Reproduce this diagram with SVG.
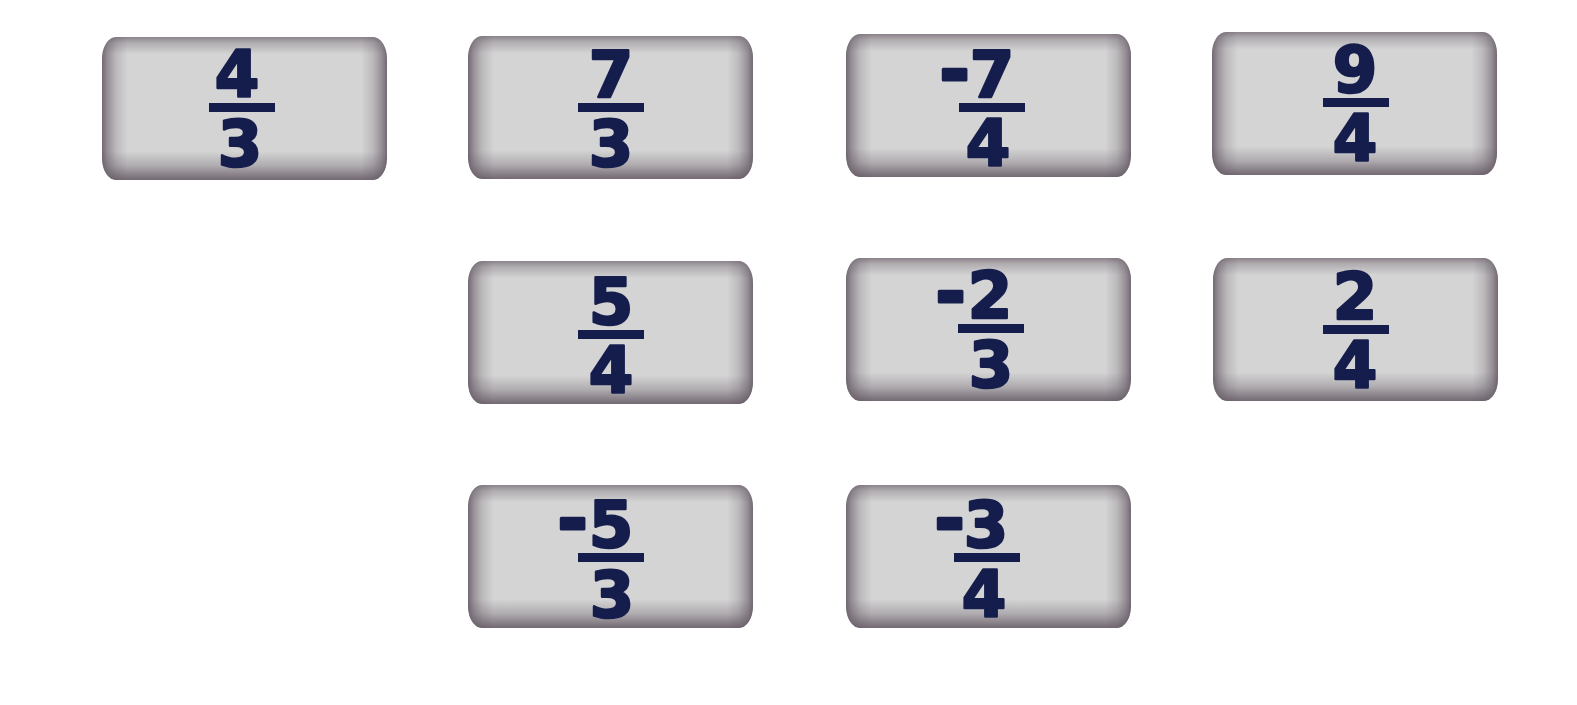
<svg xmlns="http://www.w3.org/2000/svg" width="1577" height="705" viewBox="0 0 1577 705">
<style>
.card{fill:#d4d4d4}
.gh{fill:url(#gh)}
.gv{fill:url(#gv)}
.t{font-family:"DejaVu Sans","Liberation Sans",sans-serif;font-weight:bold;font-size:64px;fill:#141d4c;stroke:#141d4c;stroke-width:2.5;stroke-linejoin:round;text-anchor:middle}
.neg{font-size:74px;stroke-width:3}
.bar{fill:#141d4c}
</style>
<defs>
<linearGradient id="gh" x1="0" y1="0" x2="1" y2="0">
<stop offset="0" stop-color="#5a4e5a" stop-opacity="0.8"/>
<stop offset="0.02" stop-color="#5a4e5a" stop-opacity="0.5"/>
<stop offset="0.05" stop-color="#5a4e5a" stop-opacity="0.2"/>
<stop offset="0.09" stop-color="#5a4e5a" stop-opacity="0"/>
<stop offset="0.91" stop-color="#5a4e5a" stop-opacity="0"/>
<stop offset="0.95" stop-color="#5a4e5a" stop-opacity="0.2"/>
<stop offset="0.98" stop-color="#5a4e5a" stop-opacity="0.5"/>
<stop offset="1" stop-color="#5a4e5a" stop-opacity="0.8"/>
</linearGradient>
<linearGradient id="gv" x1="0" y1="0" x2="0" y2="1">
<stop offset="0" stop-color="#5a4e5a" stop-opacity="0.6"/>
<stop offset="0.04" stop-color="#5a4e5a" stop-opacity="0.3"/>
<stop offset="0.12" stop-color="#5a4e5a" stop-opacity="0"/>
<stop offset="0.8" stop-color="#5a4e5a" stop-opacity="0"/>
<stop offset="0.9" stop-color="#5a4e5a" stop-opacity="0.3"/>
<stop offset="0.96" stop-color="#5a4e5a" stop-opacity="0.6"/>
<stop offset="1" stop-color="#5a4e5a" stop-opacity="0.8"/>
</linearGradient>
</defs>
<rect width="1577" height="705" fill="#ffffff"/>
<g id="connectors"/>
<g id="card-4-3">
<rect class="card" x="102" y="37" width="285" height="143" rx="14" ry="22"/>
<rect class="gh" x="102" y="37" width="285" height="143" rx="14" ry="22"/>
<rect class="gv" x="102" y="37" width="285" height="143" rx="14" ry="22"/>
<text class="t" x="237" y="97">4</text>
<rect class="bar" x="209" y="103" width="66" height="9"/>
<text class="t" x="240" y="166">3</text>
</g>
<g id="card-7-3">
<rect class="card" x="468" y="36" width="285" height="143" rx="14" ry="22"/>
<rect class="gh" x="468" y="36" width="285" height="143" rx="14" ry="22"/>
<rect class="gv" x="468" y="36" width="285" height="143" rx="14" ry="22"/>
<text class="t" x="611" y="97">7</text>
<rect class="bar" x="578" y="103" width="66" height="9"/>
<text class="t" x="611" y="166">3</text>
</g>
<g id="card-neg7-4">
<rect class="card" x="846" y="34" width="285" height="143" rx="14" ry="22"/>
<rect class="gh" x="846" y="34" width="285" height="143" rx="14" ry="22"/>
<rect class="gv" x="846" y="34" width="285" height="143" rx="14" ry="22"/>
<text class="t" y="97"><tspan class="neg" x="970" dy="-1" text-anchor="end">-</tspan><tspan x="992" dy="1">7</tspan></text>
<rect class="bar" x="959" y="103" width="66" height="9"/>
<text class="t" x="988" y="166">4</text>
</g>
<g id="card-9-4">
<rect class="card" x="1212" y="32" width="285" height="143" rx="14" ry="22"/>
<rect class="gh" x="1212" y="32" width="285" height="143" rx="14" ry="22"/>
<rect class="gv" x="1212" y="32" width="285" height="143" rx="14" ry="22"/>
<text class="t" x="1355" y="92">9</text>
<rect class="bar" x="1323" y="98" width="66" height="9"/>
<text class="t" x="1355" y="161">4</text>
</g>
<g id="card-5-4">
<rect class="card" x="468" y="261" width="285" height="143" rx="14" ry="22"/>
<rect class="gh" x="468" y="261" width="285" height="143" rx="14" ry="22"/>
<rect class="gv" x="468" y="261" width="285" height="143" rx="14" ry="22"/>
<text class="t" x="611" y="324">5</text>
<rect class="bar" x="578" y="330" width="66" height="9"/>
<text class="t" x="611" y="393">4</text>
</g>
<g id="card-neg2-3">
<rect class="card" x="846" y="258" width="285" height="143" rx="14" ry="22"/>
<rect class="gh" x="846" y="258" width="285" height="143" rx="14" ry="22"/>
<rect class="gv" x="846" y="258" width="285" height="143" rx="14" ry="22"/>
<text class="t" y="318"><tspan class="neg" x="966" dy="0" text-anchor="end">-</tspan><tspan x="990" dy="0">2</tspan></text>
<rect class="bar" x="958" y="324" width="66" height="9"/>
<text class="t" x="991" y="387">3</text>
</g>
<g id="card-2-4">
<rect class="card" x="1213" y="258" width="285" height="143" rx="14" ry="22"/>
<rect class="gh" x="1213" y="258" width="285" height="143" rx="14" ry="22"/>
<rect class="gv" x="1213" y="258" width="285" height="143" rx="14" ry="22"/>
<text class="t" x="1355" y="319">2</text>
<rect class="bar" x="1323" y="325" width="66" height="9"/>
<text class="t" x="1355" y="388">4</text>
</g>
<g id="card-neg5-3">
<rect class="card" x="468" y="485" width="285" height="143" rx="14" ry="22"/>
<rect class="gh" x="468" y="485" width="285" height="143" rx="14" ry="22"/>
<rect class="gv" x="468" y="485" width="285" height="143" rx="14" ry="22"/>
<text class="t" y="547"><tspan class="neg" x="588" dy="-2" text-anchor="end">-</tspan><tspan x="611" dy="2">5</tspan></text>
<rect class="bar" x="578" y="553" width="66" height="9"/>
<text class="t" x="612" y="617">3</text>
</g>
<g id="card-neg3-4">
<rect class="card" x="846" y="485" width="285" height="143" rx="14" ry="22"/>
<rect class="gh" x="846" y="485" width="285" height="143" rx="14" ry="22"/>
<rect class="gv" x="846" y="485" width="285" height="143" rx="14" ry="22"/>
<text class="t" y="547"><tspan class="neg" x="965" dy="-2" text-anchor="end">-</tspan><tspan x="986" dy="2">3</tspan></text>
<rect class="bar" x="954" y="553" width="66" height="9"/>
<text class="t" x="984" y="617">4</text>
</g>
</svg>
